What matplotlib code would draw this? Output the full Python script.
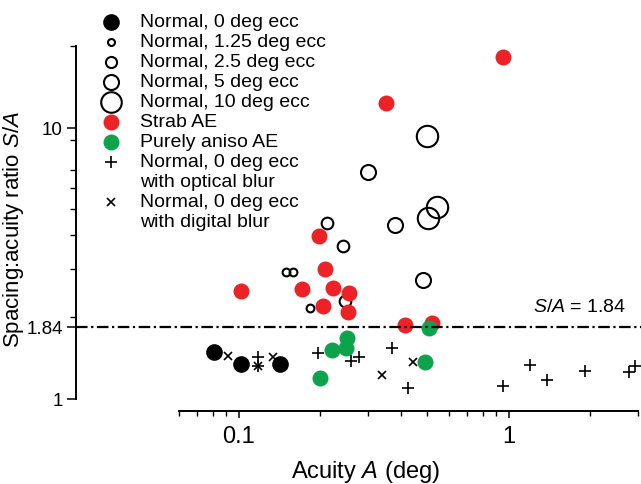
import matplotlib
matplotlib.use("Agg")
import matplotlib.pyplot as plt
from matplotlib.ticker import FixedLocator, NullFormatter
from matplotlib.lines import Line2D

plt.rcParams["font.family"] = ["Liberation Sans", "DejaVu Sans"]
plt.rcParams["mathtext.fontset"] = "custom"
plt.rcParams["mathtext.rm"] = "Liberation Sans"
plt.rcParams["mathtext.it"] = "Liberation Sans:italic"

RED = "#EC2227"
GREEN = "#0DA24C"

# acuity A (deg) and spacing:acuity ratio S/A
norm0_x = [0.0808, 0.1017, 0.1419]
norm0_y = [1.491, 1.346, 1.346]
ecc125_x = [0.1493, 0.1585, 0.1832]
ecc125_y = [2.942, 2.942, 2.167]
ecc25_x = [0.2118, 0.2427, 0.2469]
ecc25_y = [4.461, 3.669, 2.299]
ecc5_x = [0.3005, 0.3782, 0.4803]
ecc5_y = [6.880, 4.386, 2.749]
ecc10_x = [0.4970, 0.5412, 0.5010]
ecc10_y = [9.343, 5.110, 4.655]
strab_x = [0.950, 0.3504, 0.1978, 0.2083, 0.1017, 0.1712, 0.2229, 0.2556,
           0.2048, 0.2534, 0.4118, 0.5186]
strab_y = [18.28, 12.37, 3.996, 3.018, 2.503, 2.546, 2.568, 2.461,
           2.204, 2.094, 1.876, 1.907]
aniso_x = [0.2512, 0.2490, 0.2211, 0.1995, 0.5055, 0.4886]
aniso_y = [1.680, 1.542, 1.516, 1.195, 1.828, 1.369]
optical_x = [0.1176, 0.1176, 0.1962, 0.2600, 0.2783, 0.3686, 0.4224,
             0.950, 1.196, 1.383, 1.912, 2.783, 2.929]
optical_y = [1.429, 1.324, 1.478, 1.381, 1.429, 1.542, 1.098,
             1.117, 1.335, 1.175, 1.269, 1.258, 1.324]
digital_x = [0.0911, 0.1176, 0.1336, 0.3386, 0.4410]
digital_y = [1.441, 1.324, 1.429, 1.226, 1.369]

criterion = 1.84

x_major = [0.1, 1]
x_minor = [0.06, 0.07, 0.08, 0.09, 0.2, 0.3, 0.4, 0.5, 0.6, 0.7, 0.8, 0.9, 2, 3]
y_major = [1, criterion, 10]
y_major_labels = ["1", "1.84", "10"]
y_minor = [2, 3, 4, 5, 6, 7, 9, 20]

W, H = 641, 485
fig = plt.figure(figsize=(W / 100, H / 100), dpi=100)
# axes box in pixels: left 76, right 641, top 47, bottom 412
ax = fig.add_axes([76 / W, (H - 412) / H, 565 / W, 365 / H])
ax.set_xscale("log")
ax.set_yscale("log")
ax.set_xlim(0.02496, 3.09)
ax.set_ylim(0.8997, 20)

open_kw = dict(ls="none", marker="o", mfc="none", mec="black", mew=1.5, zorder=2)
ax.plot(ecc125_x, ecc125_y, ms=5.6, **open_kw)
ax.plot(ecc25_x, ecc25_y, ms=8.4, **open_kw)
ax.plot(ecc5_x, ecc5_y, ms=10.8, **open_kw)
ax.plot(ecc10_x, ecc10_y, ms=15.4, **open_kw)
ax.plot(digital_x, digital_y, ls="none", marker="x", ms=6, mew=1.2,
        color="black", zorder=3)
ax.plot(norm0_x, norm0_y, ls="none", marker="o", ms=12, color="black",
        mew=0, zorder=4)
ax.plot(strab_x, strab_y, ls="none", marker="o", ms=11.5, color=RED,
        mew=0, zorder=5)
ax.plot(aniso_x, aniso_y, ls="none", marker="o", ms=11.5, color=GREEN,
        mew=0, zorder=6)
ax.plot(optical_x, optical_y, ls="none", marker="+", ms=9, mew=1.2,
        color="black", zorder=7)

ax.axhline(criterion, color="black", lw=1.6, ls=(0, (5.2, 1.6, 1.0, 1.6)),
           zorder=8)
ax.text(0.9735, 2.185, "$S/A$ = 1.84", transform=ax.get_yaxis_transform(),
        ha="right", va="center", fontsize=14)

# spines and ticks
for s in ["top", "right"]:
    ax.spines[s].set_visible(False)
ax.spines["left"].set_bounds(1, 20)
ax.spines["bottom"].set_bounds(0.06, 3)
for s in ["left", "bottom"]:
    ax.spines[s].set_linewidth(1.4)

ax.xaxis.set_major_locator(FixedLocator(x_major))
ax.xaxis.set_minor_locator(FixedLocator(x_minor))
ax.set_xticklabels(["0.1", "1"])
ax.xaxis.set_minor_formatter(NullFormatter())
ax.yaxis.set_major_locator(FixedLocator(y_major))
ax.yaxis.set_minor_locator(FixedLocator(y_minor))
ax.set_yticklabels(y_major_labels)
ax.yaxis.set_minor_formatter(NullFormatter())

ax.tick_params(axis="x", which="major", direction="out", length=5, width=1.1,
               labelsize=17, pad=5)
ax.tick_params(axis="x", which="minor", direction="out", length=3.5, width=1.0)
ax.tick_params(axis="y", which="major", direction="out", length=6.5, width=1.1,
               labelsize=13.5, pad=3)
ax.tick_params(axis="y", which="minor", direction="out", length=4, width=1.0)

ax.set_xlabel("Acuity $A$ (deg)", fontsize=17)
ax.set_ylabel("Spacing:acuity ratio $S/A$", fontsize=16)
ax.xaxis.set_label_coords(0.512, -0.128)
ax.yaxis.set_label_coords(-0.088, 0.499)

# legend drawn by hand so the marker sits on the first text line
legend = [
    (dict(marker="o", ms=12, color="black", mew=0), "Normal, 0 deg ecc", 0),
    (dict(marker="o", ms=5, mfc="none", mec="black", mew=1.5), "Normal, 1.25 deg ecc", 1),
    (dict(marker="o", ms=8, mfc="none", mec="black", mew=1.5), "Normal, 2.5 deg ecc", 2),
    (dict(marker="o", ms=10.8, mfc="none", mec="black", mew=1.5), "Normal, 5 deg ecc", 3),
    (dict(marker="o", ms=14.8, mfc="none", mec="black", mew=1.5), "Normal, 10 deg ecc", 4),
    (dict(marker="o", ms=11.5, color=RED, mew=0), "Strab AE", 5),
    (dict(marker="o", ms=11.5, color=GREEN, mew=0), "Purely aniso AE", 6),
    (dict(marker="+", ms=9, mew=1.2, color="black"), "Normal, 0 deg ecc\nwith optical blur", 7),
    (dict(marker="x", ms=6, mew=1.2, color="black"), "Normal, 0 deg ecc\nwith digital blur", 9),
]
row_h = 20.0
for kw, label, row in legend:
    py = 22.5 + row * row_h
    yf = 1 - py / H
    fig.add_artist(Line2D([111 / W], [yf], ls="none", transform=fig.transFigure, **kw))
    lines = label.split("\n")
    for i, line in enumerate(lines):
        fig.text(140 / W, yf - i * row_h / H, line, ha="left", va="center",
                 fontsize=14)

fig.savefig("out.png", dpi=100)
